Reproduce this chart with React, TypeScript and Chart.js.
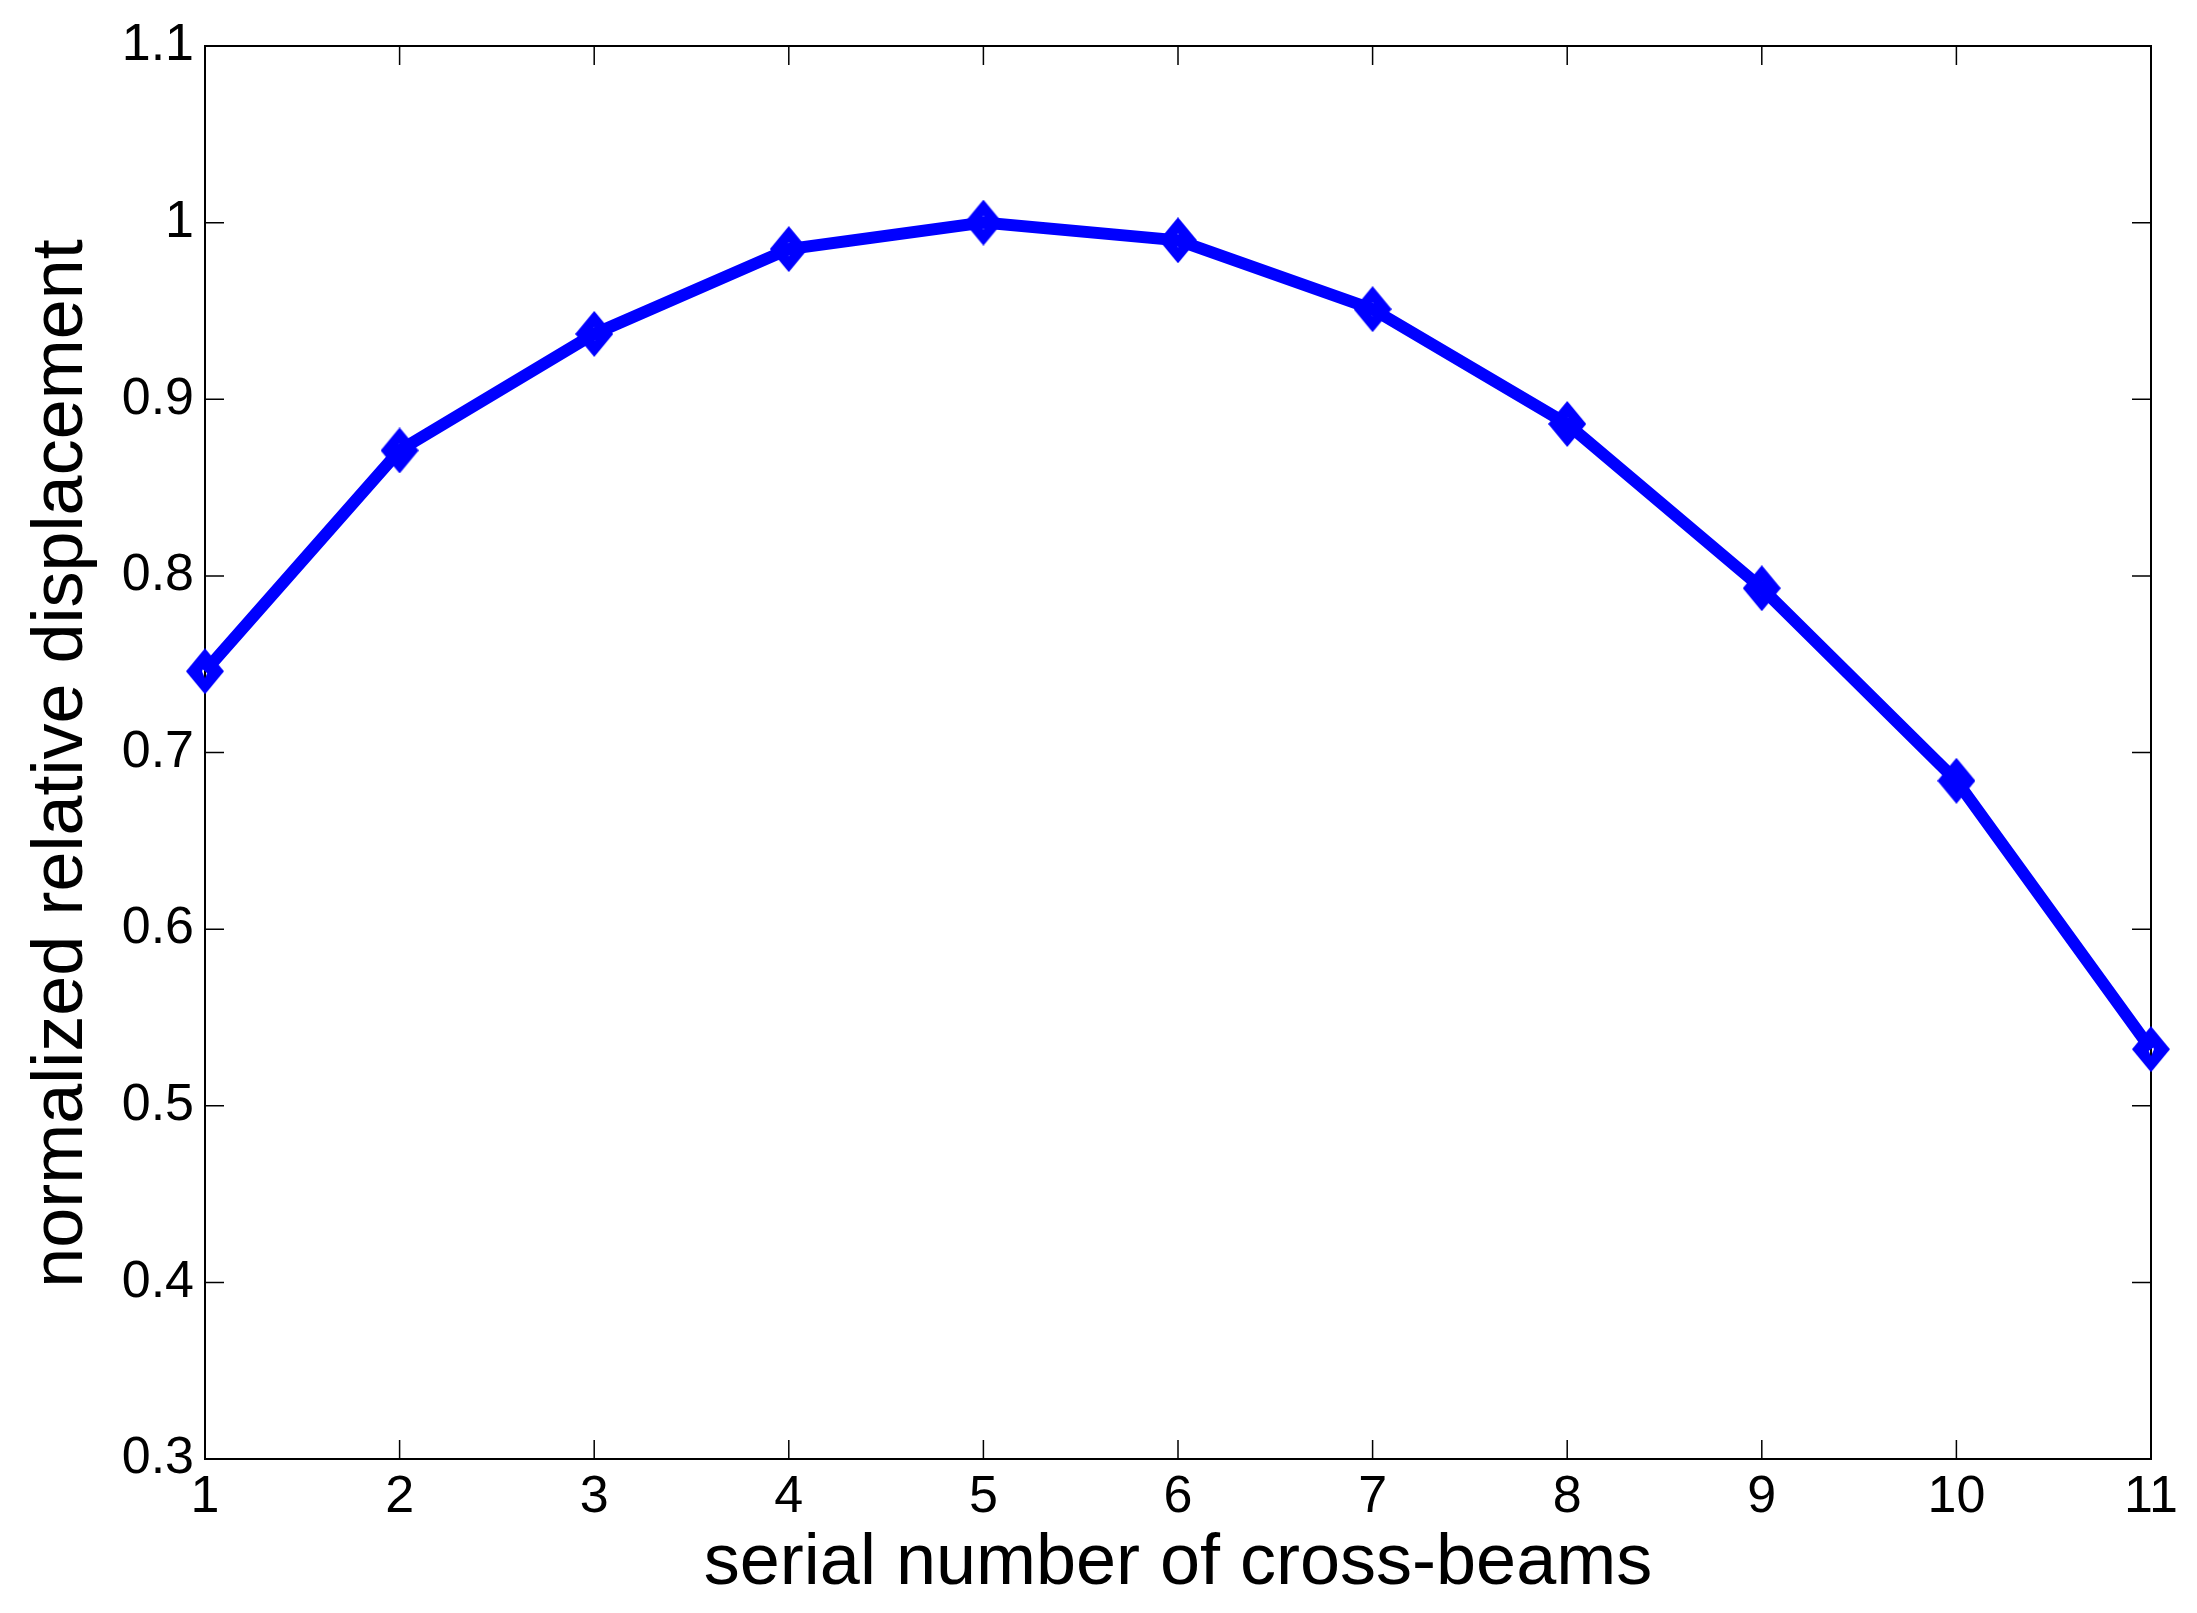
import React, { useEffect, useRef } from 'react';
import { Chart, registerables } from 'chart.js';

Chart.register(...registerables);

const crossBeams = [1, 2, 3, 4, 5, 6, 7, 8, 9, 10, 11];
const displacement = [0.746, 0.871, 0.937, 0.985, 1.0, 0.99, 0.951, 0.886, 0.793, 0.684, 0.532];
const xTicks = [1, 2, 3, 4, 5, 6, 7, 8, 9, 10, 11];
const yTicks = [0.3, 0.4, 0.5, 0.6, 0.7, 0.8, 0.9, 1.0, 1.1];
const yTickLabels = ['0.3', '0.4', '0.5', '0.6', '0.7', '0.8', '0.9', '1', '1.1'];
const xTitle = 'serial number of cross-beams';
const yTitle = 'normalized relative displacement';

const FONT = '"Liberation Sans", Arial, Helvetica, sans-serif';
const BLUE = '#0000ff';

function makeDiamond(): HTMLCanvasElement {
  const c = document.createElement('canvas');
  const w = 38;
  const h = 46;
  c.width = w;
  c.height = h;
  const g = c.getContext('2d') as CanvasRenderingContext2D;
  g.fillStyle = BLUE;
  g.beginPath();
  g.moveTo(w / 2, 0);
  g.lineTo(w, h / 2);
  g.lineTo(w / 2, h);
  g.lineTo(0, h / 2);
  g.closePath();
  g.fill();
  g.globalCompositeOperation = 'destination-out';
  g.beginPath();
  g.moveTo(w / 2, h / 2 - 7);
  g.lineTo(w / 2 + 3, h / 2);
  g.lineTo(w / 2, h / 2 + 7);
  g.lineTo(w / 2 - 3, h / 2);
  g.closePath();
  g.fill();
  return c;
}

const framePlugin = {
  id: 'matlabFrame',
  beforeDatasetsDraw(chart: any) {
    const { ctx, chartArea } = chart;
    const { left, right, top, bottom } = chartArea;
    const xs = chart.scales.x;
    const ys = chart.scales.y;
    const tl = 19;
    ctx.save();
    ctx.strokeStyle = '#000000';
    ctx.lineWidth = 2;
    ctx.beginPath();
    ctx.rect(left, top, right - left, bottom - top);
    ctx.stroke();
    ctx.lineWidth = 1.5;
    ctx.beginPath();
    xTicks.forEach((v) => {
      const px = xs.getPixelForValue(v);
      ctx.moveTo(px, bottom);
      ctx.lineTo(px, bottom - tl);
      ctx.moveTo(px, top);
      ctx.lineTo(px, top + tl);
    });
    yTicks.forEach((v) => {
      const py = ys.getPixelForValue(v);
      ctx.moveTo(left, py);
      ctx.lineTo(left + tl, py);
      ctx.moveTo(right, py);
      ctx.lineTo(right - tl, py);
    });
    ctx.stroke();
    ctx.restore();
  },
  afterDraw(chart: any) {
    const { ctx, chartArea } = chart;
    const cy = (chartArea.top + chartArea.bottom) / 2 + 11;
    ctx.save();
    ctx.translate(62, cy);
    ctx.rotate(-Math.PI / 2);
    ctx.fillStyle = '#000000';
    ctx.font = `72px ${FONT}`;
    ctx.textAlign = 'center';
    ctx.textBaseline = 'middle';
    ctx.fillText(yTitle, 0, 0);
    ctx.restore();
  },
};

export default function App() {
  const ref = useRef<HTMLCanvasElement | null>(null);

  useEffect(() => {
    const canvas = ref.current;
    if (!canvas) return;
    const diamond = makeDiamond();
    const chart = new Chart(canvas, {
      type: 'line',
      data: {
        datasets: [
          {
            data: crossBeams.map((x, i) => ({ x, y: displacement[i] })),
            borderColor: BLUE,
            backgroundColor: BLUE,
            borderWidth: 12,
            pointStyle: diamond as any,
            pointRadius: 20,
            pointHoverRadius: 20,
            tension: 0,
            fill: false,
            clip: false as any,
            borderJoinStyle: 'miter',
          },
        ],
      },
      options: {
        responsive: false,
        animation: false,
        devicePixelRatio: 1,
        events: [],
        layout: { padding: { top: 46, right: 46, bottom: 0, left: 0 } },
        plugins: {
          legend: { display: false },
          tooltip: { enabled: false },
          title: { display: false },
        },
        scales: {
          x: {
            type: 'linear',
            min: 1,
            max: 11,
            grid: { display: false, drawTicks: false },
            border: { display: false },
            afterBuildTicks: (scale: any) => {
              scale.ticks = xTicks.map((v) => ({ value: v }));
            },
            afterFit: (scale: any) => {
              scale.height = 154;
            },
            ticks: {
              autoSkip: false,
              maxRotation: 0,
              minRotation: 0,
              padding: 7,
              color: '#000000',
              font: { family: FONT, size: 52, lineHeight: 1.2 },
              callback: (v: any) => String(v),
            },
            title: {
              display: true,
              text: xTitle,
              color: '#000000',
              font: { family: FONT, size: 72, lineHeight: 1.2 },
              padding: { top: 0, bottom: 6 },
            },
          },
          y: {
            type: 'linear',
            min: 0.3,
            max: 1.1,
            grid: { display: false, drawTicks: false },
            border: { display: false },
            afterBuildTicks: (scale: any) => {
              scale.ticks = yTicks.map((v) => ({ value: v }));
            },
            afterFit: (scale: any) => {
              scale.width = 205;
            },
            ticks: {
              autoSkip: false,
              padding: 11,
              color: '#000000',
              font: { family: FONT, size: 52, lineHeight: 1.2 },
              callback: (_v: any, i: number) => yTickLabels[i],
            },
            title: { display: false },
          },
        },
      },
      plugins: [framePlugin],
    });
    return () => chart.destroy();
  }, []);

  return (
    <div style={{ position: 'absolute', left: 0, top: 0, width: 2197, height: 1613, background: '#ffffff' }}>
      <canvas ref={ref} width={2197} height={1613} style={{ display: 'block', width: 2197, height: 1613 }} />
    </div>
  );
}
